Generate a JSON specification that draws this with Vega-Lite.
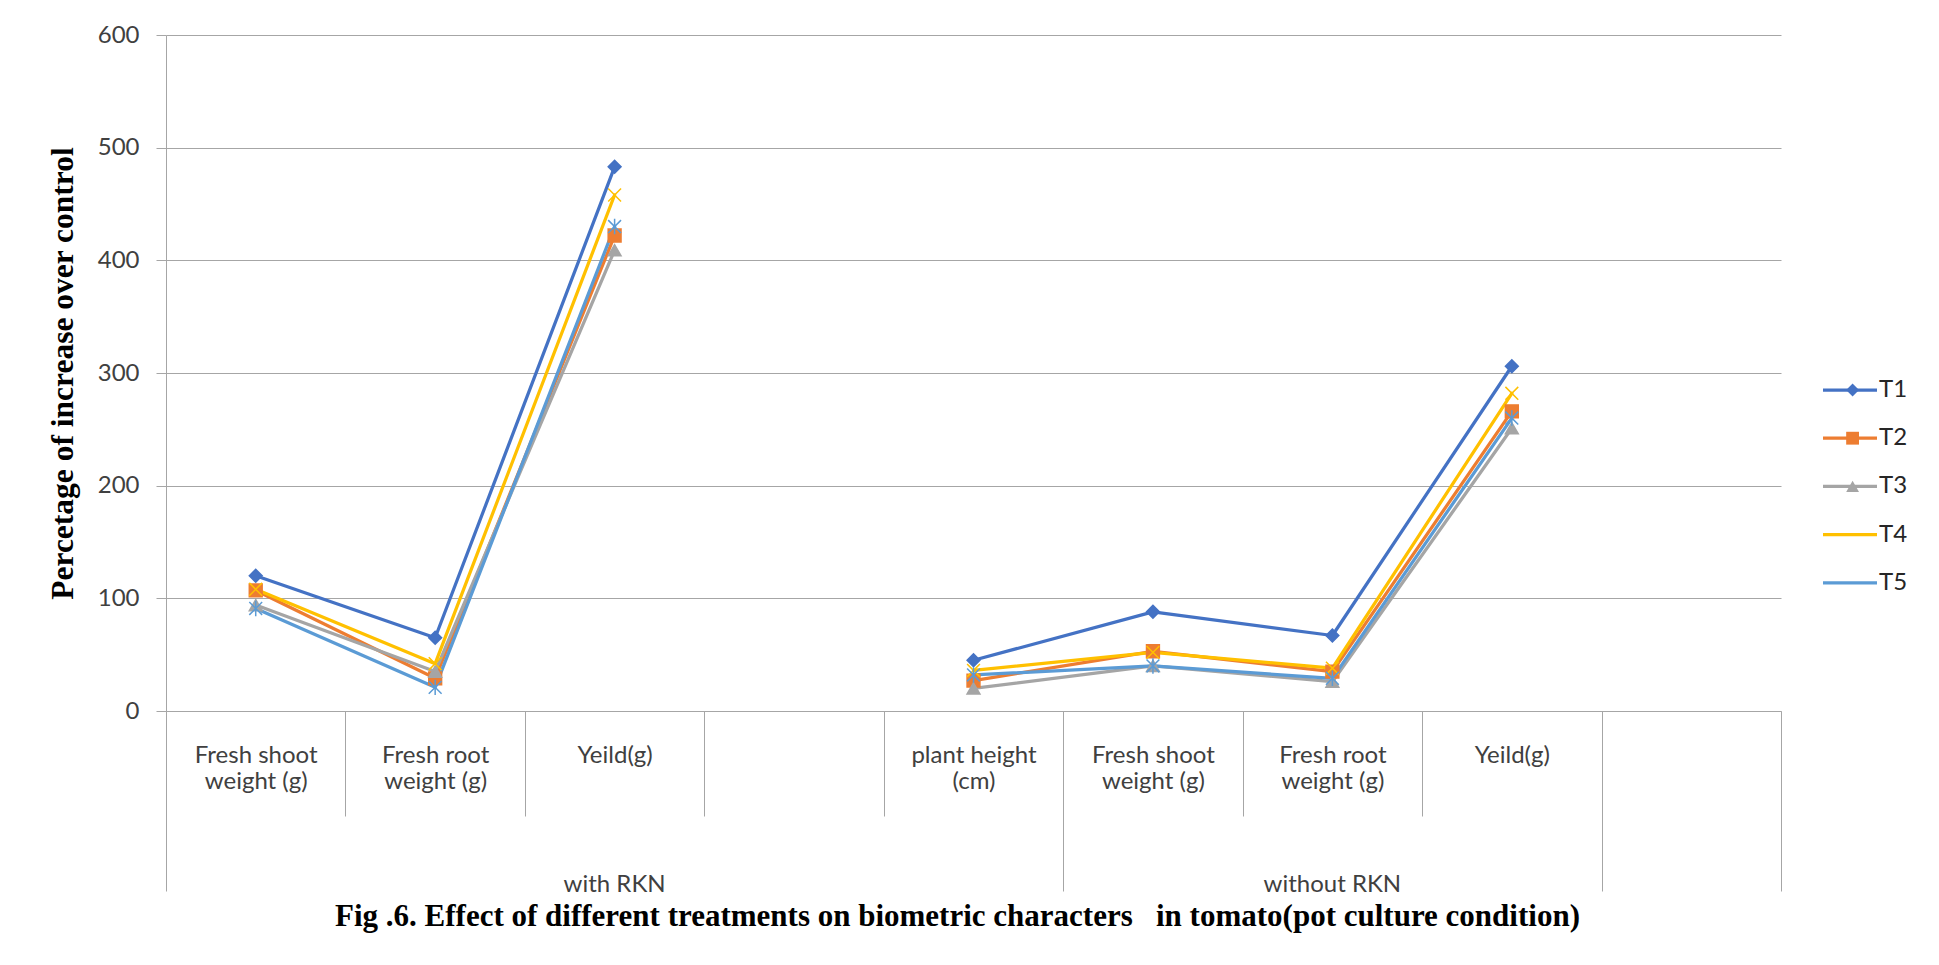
{
  "$schema": "https://vega.github.io/schema/vega-lite/v6.json",
  "width": 1615,
  "height": 676,
  "autosize": {"type": "none"},
  "padding": {"left": 166, "top": 35, "right": 158, "bottom": 254},
  "background": "white",
  "config": {"view": {"stroke": null}},
  "title": {
    "text": "Fig .6. Effect of different treatments on biometric characters \u00a0 in tomato(pot culture condition)",
    "orient": "bottom", "anchor": "middle", "frame": "group", "offset": 6, "dx": -16,
    "font": "Liberation Serif", "fontSize": 31, "fontWeight": "bold", "color": "#000000"
  },
  "data": {
    "values": [
      {"treatment": "T1", "category": "with RKN|Fresh shoot weight (g)", "value": 120},
      {"treatment": "T1", "category": "with RKN|Fresh root weight (g)", "value": 65},
      {"treatment": "T1", "category": "with RKN|Yeild(g)", "value": 483},
      {"treatment": "T1", "category": "with RKN|", "value": null},
      {"treatment": "T1", "category": "with RKN|plant height (cm)", "value": 45},
      {"treatment": "T1", "category": "without RKN|Fresh shoot weight (g)", "value": 88},
      {"treatment": "T1", "category": "without RKN|Fresh root weight (g)", "value": 67},
      {"treatment": "T1", "category": "without RKN|Yeild(g)", "value": 306},
      {"treatment": "T2", "category": "with RKN|Fresh shoot weight (g)", "value": 107},
      {"treatment": "T2", "category": "with RKN|Fresh root weight (g)", "value": 29},
      {"treatment": "T2", "category": "with RKN|Yeild(g)", "value": 422},
      {"treatment": "T2", "category": "with RKN|", "value": null},
      {"treatment": "T2", "category": "with RKN|plant height (cm)", "value": 27},
      {"treatment": "T2", "category": "without RKN|Fresh shoot weight (g)", "value": 53},
      {"treatment": "T2", "category": "without RKN|Fresh root weight (g)", "value": 35},
      {"treatment": "T2", "category": "without RKN|Yeild(g)", "value": 266},
      {"treatment": "T3", "category": "with RKN|Fresh shoot weight (g)", "value": 94},
      {"treatment": "T3", "category": "with RKN|Fresh root weight (g)", "value": 35},
      {"treatment": "T3", "category": "with RKN|Yeild(g)", "value": 409},
      {"treatment": "T3", "category": "with RKN|", "value": null},
      {"treatment": "T3", "category": "with RKN|plant height (cm)", "value": 20},
      {"treatment": "T3", "category": "without RKN|Fresh shoot weight (g)", "value": 40},
      {"treatment": "T3", "category": "without RKN|Fresh root weight (g)", "value": 26},
      {"treatment": "T3", "category": "without RKN|Yeild(g)", "value": 251},
      {"treatment": "T4", "category": "with RKN|Fresh shoot weight (g)", "value": 108},
      {"treatment": "T4", "category": "with RKN|Fresh root weight (g)", "value": 42},
      {"treatment": "T4", "category": "with RKN|Yeild(g)", "value": 458},
      {"treatment": "T4", "category": "with RKN|", "value": null},
      {"treatment": "T4", "category": "with RKN|plant height (cm)", "value": 36},
      {"treatment": "T4", "category": "without RKN|Fresh shoot weight (g)", "value": 52},
      {"treatment": "T4", "category": "without RKN|Fresh root weight (g)", "value": 38},
      {"treatment": "T4", "category": "without RKN|Yeild(g)", "value": 282},
      {"treatment": "T5", "category": "with RKN|Fresh shoot weight (g)", "value": 91},
      {"treatment": "T5", "category": "with RKN|Fresh root weight (g)", "value": 21},
      {"treatment": "T5", "category": "with RKN|Yeild(g)", "value": 430},
      {"treatment": "T5", "category": "with RKN|", "value": null},
      {"treatment": "T5", "category": "with RKN|plant height (cm)", "value": 32},
      {"treatment": "T5", "category": "without RKN|Fresh shoot weight (g)", "value": 40},
      {"treatment": "T5", "category": "without RKN|Fresh root weight (g)", "value": 29},
      {"treatment": "T5", "category": "without RKN|Yeild(g)", "value": 260}
    ]
  },
  "encoding": {
    "y": {
      "field": "value", "type": "quantitative",
      "title": "Percetage of increase over control",
      "scale": {"domain": [0, 600], "nice": false, "zero": true},
      "axis": {
        "values": [0, 100, 200, 300, 400, 500, 600],
        "grid": true, "gridColor": "#a6a6a6", "gridWidth": 1,
        "domain": true, "domainColor": "#a6a6a6", "domainWidth": 1,
        "ticks": true, "tickSize": 10, "tickColor": "#a6a6a6", "tickWidth": 1,
        "labelFont": "Lato", "labelFontSize": 24, "labelColor": "#404040", "labelPadding": 17,
        "titleFont": "Liberation Serif", "titleFontSize": 31.5, "titleFontWeight": "bold",
        "titleColor": "#000000", "titlePadding": 18
      }
    }
  },
  "layer": [
    {
      "mark": {"type": "line", "strokeWidth": 3.25, "strokeJoin": "round", "strokeCap": "round", "invalid": "break-paths-show-domains"},
      "encoding": {
        "x": {
          "field": "category", "type": "nominal", "title": null,
          "scale": {
            "type": "band", "paddingInner": 0, "paddingOuter": 0,
            "domain": ["with RKN|Fresh shoot weight (g)", "with RKN|Fresh root weight (g)", "with RKN|Yeild(g)", "with RKN|", "with RKN|plant height (cm)", "without RKN|Fresh shoot weight (g)", "without RKN|Fresh root weight (g)", "without RKN|Yeild(g)", "|"]
          },
          "axis": {
            "orient": "bottom", "tickBand": "extent", "grid": false,
            "domain": true, "domainColor": "#a6a6a6", "domainWidth": 1,
            "ticks": true, "tickColor": "#a6a6a6", "tickWidth": 1,
            "tickSize": {"condition": {"test": "!isValid(datum.value) || indexof(['with RKN|plant height (cm)', 'without RKN|Yeild(g)', '|'], datum.value) >= 0", "value": 180}, "value": 105},
            "labelPadding": {"condition": {"test": "!isValid(datum.value) || indexof(['with RKN|plant height (cm)', 'without RKN|Yeild(g)', '|'], datum.value) >= 0", "value": -148}, "value": -73},
            "labelExpr": "isValid(datum.value) ? split(replace(replace(split(datum.value, '|')[1], ' weight', '|weight'), ' (cm)', '|(cm)'), '|') : ''",
            "labelAngle": 0, "labelAlign": "center", "labelBaseline": "top", "labelLineHeight": 26,
            "labelFont": "Lato", "labelFontSize": 24, "labelColor": "#404040",
            "labelOverlap": false, "labelBound": false, "labelFlush": false, "labelLimit": 0
          }
        },
        "stroke": {
          "field": "treatment", "type": "nominal",
          "scale": {"domain": ["T1", "T2", "T3", "T4", "T5"], "range": ["#4472C4", "#ED7D31", "#A5A5A5", "#FFC000", "#5B9BD5"]},
          "legend": {
            "orient": "none", "legendX": 1672, "legendY": 343, "title": null, "padding": 0,
            "symbolType": "M-3,0H3", "symbolSize": 324, "symbolStrokeWidth": 3.25,
            "labelFont": "Lato", "labelFontSize": 24, "labelColor": "#262626", "labelOffset": 17,
            "rowPadding": 24.2, "zindex": 1
          }
        }
      }
    },
    {
      "mark": {"type": "point", "filled": true, "size": 165, "opacity": 1, "strokeWidth": 1.5, "stroke": {"expr": "scale('color', datum.treatment)"}},
      "encoding": {
        "x": {
          "field": "category", "type": "nominal", "title": null,
          "scale": {
            "type": "band", "paddingInner": 0, "paddingOuter": 0,
            "domain": ["with RKN|Fresh shoot weight (g)", "with RKN|Fresh root weight (g)", "with RKN|Yeild(g)", "with RKN|", "with RKN|plant height (cm)", "without RKN|Fresh shoot weight (g)", "without RKN|Fresh root weight (g)", "without RKN|Yeild(g)", "|"]
          },
          "axis": {
            "orient": "bottom", "values": ["with RKN|Yeild(g)", "without RKN|Fresh root weight (g)"],
            "labelExpr": "split(datum.value, '|')[0]",
            "ticks": false, "tickSize": 0, "domain": false, "grid": false,
            "labelPadding": 173, "labelBaseline": "middle", "labelAngle": 0, "labelAlign": "center",
            "labelFont": "Lato", "labelFontSize": 24, "labelColor": "#404040",
            "labelOverlap": false, "labelBound": false, "labelFlush": false
          }
        },
        "color": {
          "field": "treatment", "type": "nominal",
          "scale": {"range": ["#4472C4", "#ED7D31", "#A5A5A5", "#FFC000", "#5B9BD5"]},
          "legend": {
            "orient": "none", "legendX": 1674.6, "legendY": 343, "title": null, "padding": 0,
            "symbolSize": 165, "symbolStrokeWidth": 1.5,
            "labelFont": "Lato", "labelFontSize": 24, "labelOpacity": 0, "labelOffset": 17,
            "rowPadding": 24.2, "zindex": 2,
            "encode": {"symbols": {"update": {"stroke": {"scale": "color", "field": "value"}, "fill": {"scale": "color", "field": "value"}}}}
          }
        },
        "shape": {
          "field": "treatment", "type": "nominal",
          "scale": {"range": ["diamond", "square", "triangle-up", "M-1,-1L1,1M-1,1L1,-1", "M-1,-1L1,1M-1,1L1,-1M0,-1.2L0,1.2"]},
          "legend": {
            "orient": "none", "legendX": 1674.6, "legendY": 343, "title": null, "padding": 0,
            "symbolSize": 165, "symbolStrokeWidth": 1.5,
            "labelFont": "Lato", "labelFontSize": 24, "labelOpacity": 0, "labelOffset": 17,
            "rowPadding": 24.2, "zindex": 2
          }
        }
      }
    }
  ],
  "resolve": {"scale": {"x": "independent"}, "axis": {"x": "independent"}}
}
